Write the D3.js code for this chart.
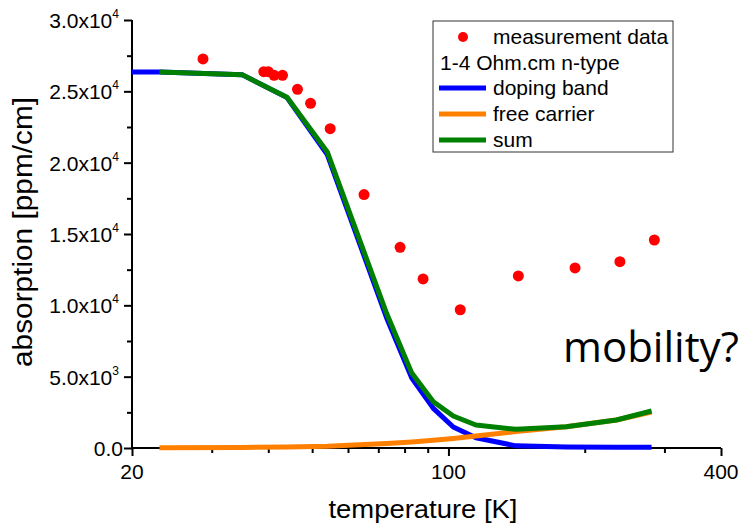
<!DOCTYPE html>
<html>
<head>
<meta charset="utf-8">
<script src="https://cdn.jsdelivr.net/npm/d3@7"></script>
<style>
  body { margin: 0; background: #fff; }
  text { font-family: "Liberation Sans", Arial, sans-serif; fill: #000; }
</style>
</head>
<body>
<div id="chart"></div>
<script>
// measurement points (temperature K, absorption ppm/cm)
const measT = [28.7, 39.1, 40.0, 41.2, 43.0, 46.4, 49.6, 54.8, 65.1, 78.2, 87.9, 106.2, 142.7, 190.4, 239.2, 285];
const measA = [27270, 26380, 26380, 26120, 26120, 25140, 24160, 22380, 17760, 14070, 11850, 9690, 12060, 12620, 13060, 14580];

// model curves
const bandT = [20, 23, 35, 44, 54, 73, 83, 92.6, 102.5, 115, 141, 182, 235, 281];
const bandA = [26360, 26360, 26170, 24560, 20570, 9130, 4900, 2780, 1470, 720, 150, 70, 55, 45];
const carrierT = [23, 35, 44, 54, 73, 83, 92.6, 102.5, 115, 141, 182, 235, 281];
const carrierA = [20, 40, 70, 130, 315, 420, 540, 665, 840, 1157, 1493, 1963, 2523];
const sumT = [23, 35, 44, 54, 73, 83, 92.6, 102.5, 115, 141, 182, 235, 281];
const sumA = [26360, 26170, 24580, 20750, 9440, 5250, 3245, 2243, 1612, 1311, 1493, 1963, 2593];

// axis ticks
const yMajor = [0, 5000, 10000, 15000, 20000, 25000, 30000];
const yMantissa = ["0.0", "5.0x10", "1.0x10", "1.5x10", "2.0x10", "2.5x10", "3.0x10"];
const yExponent = ["", "3", "4", "4", "4", "4", "4"];
const yMinor = [2500, 7500, 12500, 17500, 22500, 27500];
const xMajor = [20, 100, 400];
const xMinor = [30, 40, 50, 60, 70, 80, 90, 200, 300];

const legendNames = ["measurement data", "1-4 Ohm.cm n-type", "doping band", "free carrier", "sum"];

const width = 740, height = 525;
const margin = { top: 20, right: 19, bottom: 77, left: 132 };

const svg = d3.select("#chart").append("svg")
    .attr("width", width)
    .attr("height", height);

const x = d3.scaleLog().domain([20, 400]).range([margin.left, width - margin.right]);
const y = d3.scaleLinear().domain([0, 30000]).range([height - margin.bottom, margin.top]);

// y axis
const yAxis = svg.append("g").attr("transform", `translate(${margin.left},0)`);
yAxis.call(d3.axisLeft(y).tickValues(yMajor).tickSize(8).tickFormat(""))
    .call(g => g.select(".domain").attr("stroke-width", 2).attr("d", `M0,${y(0)}V${y(30000)}`))
    .call(g => g.selectAll(".tick line").attr("stroke-width", 2));
yAxis.append("g")
    .call(d3.axisLeft(y).tickValues(yMinor).tickSize(5).tickFormat(""))
    .call(g => g.select(".domain").remove())
    .call(g => g.selectAll(".tick line").attr("stroke-width", 2));

const yLab = svg.append("g").selectAll("text")
    .data(yMajor)
    .join("text")
    .attr("y", d => y(d) + 8)
    .style("font-size", "21px")
    .attr("text-anchor", "end");
yLab.each(function (d, i) {
    const t = d3.select(this);
    if (yExponent[i] === "") {
        t.attr("x", 123).text(yMantissa[i]);
    } else {
        t.attr("x", 119);
        t.append("tspan").text(yMantissa[i]);
        t.append("tspan").attr("dy", -10).style("font-size", "12px").text(yExponent[i]);
    }
});

// x axis
const xAxis = svg.append("g").attr("transform", `translate(0,${y(0)})`);
xAxis.call(d3.axisBottom(x).tickValues(xMajor).tickSize(8).tickFormat(""))
    .call(g => g.select(".domain").attr("stroke-width", 2).attr("d", `M${x(20)},0H${x(400)}`))
    .call(g => g.selectAll(".tick line").attr("stroke-width", 2));
xAxis.append("g")
    .call(d3.axisBottom(x).tickValues(xMinor).tickSize(5).tickFormat(""))
    .call(g => g.select(".domain").remove())
    .call(g => g.selectAll(".tick line").attr("stroke-width", 2));

svg.append("g").selectAll("text")
    .data(xMajor)
    .join("text")
    .attr("x", d => x(d))
    .attr("y", y(0) + 31)
    .attr("text-anchor", "middle")
    .style("font-size", "21px")
    .text(d => d);

// axis titles, centred on their axes
svg.append("text")
    .attr("x", 423)
    .attr("y", 518)
    .attr("text-anchor", "middle")
    .style("font-size", "26px")
    .attr("textLength", 189)
    .attr("lengthAdjust", "spacingAndGlyphs")
    .text("temperature [K]");

svg.append("text")
    .attr("transform", "rotate(-90)")
    .attr("x", -232)
    .attr("y", 32)
    .attr("text-anchor", "middle")
    .style("font-size", "27px")
    .attr("textLength", 270)
    .attr("lengthAdjust", "spacingAndGlyphs")
    .text("absorption [ppm/cm]");

// curves
const line = d3.line()
    .x(d => x(d[0]))
    .y(d => y(d[1]));

const curves = [
    { t: bandT, a: bandA, color: "#0000ff" },
    { t: carrierT, a: carrierA, color: "#ff8000" },
    { t: sumT, a: sumA, color: "#008000" }
];
curves.forEach(c => {
    svg.append("path")
        .datum(d3.zip(c.t, c.a))
        .attr("fill", "none")
        .attr("stroke", c.color)
        .attr("stroke-width", 5)
        .attr("stroke-linejoin", "round")
        .attr("d", line);
});

// measurement points
svg.append("g").selectAll("circle")
    .data(d3.zip(measT, measA))
    .join("circle")
    .attr("cx", d => x(d[0]))
    .attr("cy", d => y(d[1]))
    .attr("r", 5.5)
    .attr("fill", "#ff0000");

// legend
const legend = svg.append("g");
legend.append("rect")
    .attr("x", 433).attr("y", 21)
    .attr("width", 240).attr("height", 131)
    .attr("fill", "#fff")
    .attr("stroke", "#333")
    .attr("stroke-width", 1);

const rowY = [37, 63, 88, 114, 140];
legend.append("circle").attr("cx", 463).attr("cy", rowY[0]).attr("r", 5).attr("fill", "#ff0000");
curves.forEach((c, i) => {
    legend.append("line")
        .attr("x1", 439).attr("x2", 486)
        .attr("y1", rowY[i + 2]).attr("y2", rowY[i + 2])
        .attr("stroke", c.color)
        .attr("stroke-width", 5);
});
legend.selectAll("text.lg")
    .data(legendNames)
    .join("text")
    .attr("class", "lg")
    .attr("x", (d, i) => i === 1 ? 440 : 493)
    .attr("y", (d, i) => rowY[i] + 7)
    .style("font-size", "21px")
    .text(d => d);

// annotation
svg.append("text")
    .attr("x", 563)
    .attr("y", 362)
    .style("font-family", "'Open Sans', sans-serif")
    .style("font-size", "42px")
    .text("mobility?");
</script>
</body>
</html>
